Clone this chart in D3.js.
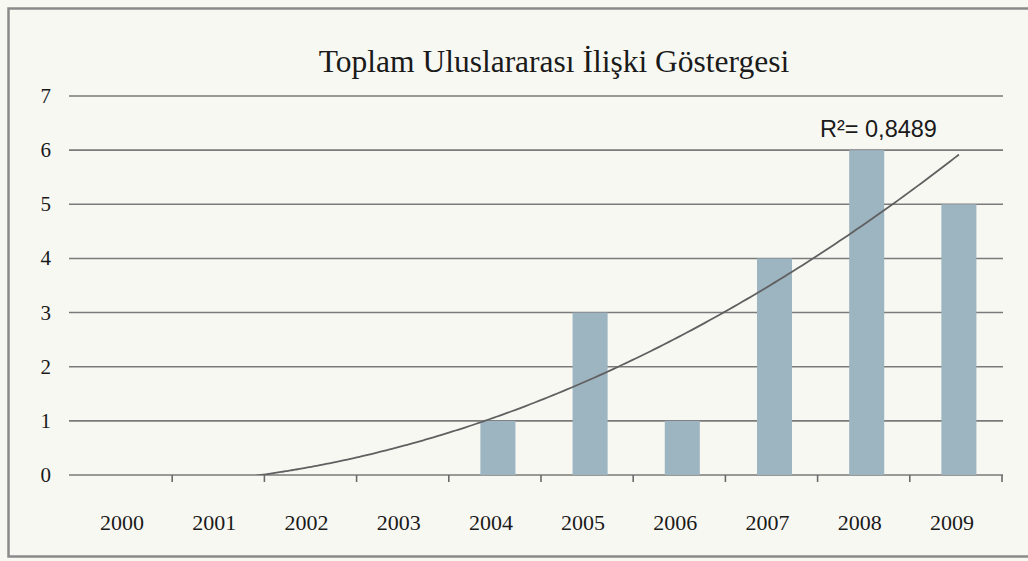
<!DOCTYPE html>
<html>
<head>
<meta charset="utf-8">
<script src="https://cdn.jsdelivr.net/npm/d3@7"></script>
<style>
  html, body { margin: 0; padding: 0; background: #f8f8f3; }
  svg { display: block; }
</style>
</head>
<body>
<svg id="chart" width="1028" height="561"></svg>
<script>
const title = "Toplam Uluslararası İlişki Göstergesi";
const years = ["2000","2001","2002","2003","2004","2005","2006","2007","2008","2009"];
const values = [0, 0, 0, 0, 1, 3, 1, 4, 6, 5];
const yTicks = [0, 1, 2, 3, 4, 5, 6, 7];
const r2Label = "R²= 0,8489";

const W = 1028, H = 561;
const svg = d3.select("#chart");

svg.append("rect").attr("x", 0).attr("y", 0).attr("width", W).attr("height", H).attr("fill", "#f8f8f3");
// frame
svg.append("rect").attr("x", 8.5).attr("y", 8.5).attr("width", W + 10).attr("height", 548)
  .attr("fill", "none").attr("stroke", "#8a8a8a").attr("stroke-width", 2.5);

const gridLeft = 69, gridRight = 1003;
const x = d3.scaleBand().domain(years).range([80, 1002]).paddingInner(0.62).paddingOuter(0.31);
const y = d3.scaleLinear().domain([0, 7]).range([475, 96]);

// title
svg.append("text").attr("x", 554).attr("y", 72).attr("text-anchor", "middle")
  .attr("font-family", "Liberation Serif, Times New Roman, serif").attr("font-size", 31.5)
  .attr("fill", "#1a1a1a").text(title);

// gridlines
svg.append("g").selectAll("line").data(yTicks).join("line")
  .attr("x1", gridLeft).attr("x2", gridRight)
  .attr("y1", d => y(d)).attr("y2", d => y(d))
  .attr("stroke", "#7a7a7a").attr("stroke-width", 1.6);

// y labels
svg.append("g").selectAll("text").data(yTicks).join("text")
  .attr("x", 51).attr("y", d => y(d) + 7).attr("text-anchor", "end")
  .attr("font-family", "Liberation Serif, Times New Roman, serif").attr("font-size", 21)
  .attr("fill", "#1a1a1a").text(d => d);

// bars
svg.append("g").selectAll("rect").data(values.map((v, i) => ({ year: years[i], v })).filter(d => d.v > 0)).join("rect")
  .attr("x", d => x(d.year) + 3).attr("width", x.bandwidth())
  .attr("y", d => y(d.v)).attr("height", d => y(0) - y(d.v))
  .attr("fill", "#9db4c1");

// x axis ticks at category boundaries
const step = x.step();
const x0 = x.range()[0];
svg.append("g").selectAll("line").data(d3.range(1, years.length + 1)).join("line")
  .attr("x1", i => x0 + i * step).attr("x2", i => x0 + i * step)
  .attr("y1", y(0)).attr("y2", y(0) + 7)
  .attr("stroke", "#6a6a6a").attr("stroke-width", 1.6);

// x labels
svg.append("g").selectAll("text").data(years).join("text")
  .attr("x", d => x(d) + x.bandwidth() / 2 - 4).attr("y", 530).attr("text-anchor", "middle")
  .attr("font-family", "Liberation Serif, Times New Roman, serif").attr("font-size", 22)
  .attr("fill", "#1a1a1a").text(d => d);

// polynomial (order 2) trendline, least squares on the data
const n = values.length;
const xs = d3.range(1, n + 1);
const S = k => d3.sum(xs, v => Math.pow(v, k));
const T = k => d3.sum(xs, (v, i) => Math.pow(v, k) * values[i]);
const M = [[n, S(1), S(2)], [S(1), S(2), S(3)], [S(2), S(3), S(4)]];
const B = [T(0), T(1), T(2)];
function solve3(A, b) {
  const m = A.map((r, i) => [...r, b[i]]);
  for (let c = 0; c < 3; c++) {
    for (let r = c + 1; r < 3; r++) {
      const f = m[r][c] / m[c][c];
      for (let k = c; k < 4; k++) m[r][k] -= f * m[c][k];
    }
  }
  const s = [0, 0, 0];
  for (let r = 2; r >= 0; r--) {
    let acc = m[r][3];
    for (let k = r + 1; k < 3; k++) acc -= m[r][k] * s[k];
    s[r] = acc / m[r][r];
  }
  return s;
}
const coef = solve3(M, B);
const fit = t => coef[0] + coef[1] * t + coef[2] * t * t;
const center = t => x(years[0]) + x.bandwidth() / 2 + 3 + (t - 1) * step;

svg.append("clipPath").attr("id", "plotclip").append("rect")
  .attr("x", gridLeft).attr("y", y(7)).attr("width", gridRight - gridLeft).attr("height", y(0) - y(7));

const pts = d3.range(1, n + 0.001, 0.05).map(t => [center(t), y(fit(t))]);
svg.append("path").attr("clip-path", "url(#plotclip)")
  .attr("d", d3.line().curve(d3.curveBasis)(pts))
  .attr("fill", "none").attr("stroke", "#606060").attr("stroke-width", 1.8);

// R² label
svg.append("text").attr("x", 820).attr("y", 137)
  .attr("font-family", "Liberation Sans, Arial, sans-serif").attr("font-size", 23.5)
  .attr("fill", "#1a1a1a").text(r2Label);
</script>
</body>
</html>
